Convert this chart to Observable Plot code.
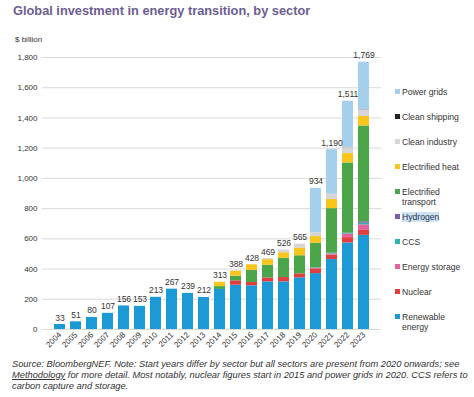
<!DOCTYPE html>
<html>
<head>
<meta charset="utf-8">
<script src="https://cdn.jsdelivr.net/npm/d3@7"></script>
<script src="https://cdn.jsdelivr.net/npm/@observablehq/plot@0.6"></script>
<style>
  html, body { margin: 0; padding: 0; background: #fff; }
  #wrap { position: relative; width: 474px; height: 397px; overflow: hidden; font-family: "Liberation Sans", Arial, sans-serif; color: #333; }
  #title { position: absolute; left: 13px; top: 3px; font-size: 12.8px; font-weight: bold; color: #6c5d93; white-space: nowrap; }
  #unit { position: absolute; left: 15px; top: 35px; font-size: 8px; color: #333; }
  #chart { position: absolute; left: 0; top: 30px; }
  .lg { position: absolute; left: 395px; font-size: 8.6px; line-height: 10px; color: #333; white-space: pre-line; }
  .lg .sw { position: absolute; left: 0; top: 2.5px; width: 5px; height: 5px; }
  .lg .tx { margin-left: 7px; display: inline-block; }
  #caption { position: absolute; left: 12px; top: 359px; font-size: 9.3px; line-height: 11px; font-style: italic; color: #333; white-space: nowrap; }
</style>
</head>
<body>
<div id="wrap">
  <div id="title">Global investment in energy transition, by sector</div>
  <div id="unit">$ billion</div>
  <div id="chart"></div>
  <div id="legend"></div>
  <div id="caption">Source: BloombergNEF. Note: Start years differ by sector but all sectors are present from 2020 onwards; see<br><u>Methodology</u> for more detail. Most notably, nuclear figures start in 2015 and power grids in 2020. CCS refers to<br>carbon capture and storage.</div>
</div>
<script>
const years = ["2004","2005","2006","2007","2008","2009","2010","2011","2012","2013","2014","2015","2016","2017","2018","2019","2020","2021","2022","2023"];
const totals = [33,51,80,107,156,153,213,267,239,212,313,388,428,469,526,565,934,1190,1511,1769];

const sectors = ["Renewable energy","Nuclear","Energy storage","CCS","Hydrogen","Electrified transport","Electrified heat","Clean industry","Clean shipping","Power grids"];
const legendLabels = ["Renewable\nenergy","Nuclear","Energy storage","CCS","Hydrogen","Electrified\ntransport","Electrified heat","Clean industry","Clean shipping","Power grids"];
const colors = ["#1b9ad6","#e13f3f","#e5619c","#2bb7ad","#7a5ca8","#4aa648","#f8c51d","#d6d6d6","#222222","#a6cfeb"];

const renewable = [33,51,80,107,156,153,213,267,239,212,265,293,289,315,315,342,370,463,573,623];
const nuclear   = [0,0,0,0,0,0,0,0,0,0,0,29,22,26,29,26,31,29,35,33];
const storage   = [0,0,0,0,0,0,0,0,0,0,0,0,0,0,0,0,3,8,22,36];
const ccs       = [0,0,0,0,0,0,0,0,0,0,0,0,0,0,0,0,3,3,4,11];
const hydrogen  = [0,0,0,0,0,0,0,0,0,0,0,0,0,0,0,0,1,2,3,10];
const transport = [0,0,0,0,0,0,0,0,0,0,19,31,80,84,127,120,163,295,465,634];
const heat      = [0,0,0,0,0,0,0,0,0,0,29,33,37,37,37,51,44,60,62,63];
const industry  = [0,0,0,0,0,0,0,0,0,0,0,2,0,7,18,26,26,35,40,45];
const shipping  = [0,0,0,0,0,0,0,0,0,0,0,0,0,0,0,0,0,0,1,1];
const grids     = [0,0,0,0,0,0,0,0,0,0,0,0,0,0,0,0,293,295,306,313];

const yTicks = [0,200,400,600,800,1000,1200,1400,1600,1800];

const series = [renewable, nuclear, storage, ccs, hydrogen, transport, heat, industry, shipping, grids];
const data = [];
sectors.forEach((s, k) => years.forEach((y, i) => data.push({year: y, sector: s, value: series[k][i]})));
const totalData = years.map((y, i) => ({year: y, total: totals[i]}));

const chart = Plot.plot({
  width: 390,
  height: 330,
  marginLeft: 42,
  marginRight: 9,
  marginTop: 27,
  marginBottom: 31,
  style: {fontFamily: "Liberation Sans, Arial, sans-serif", color: "#333", background: "transparent"},
  x: {domain: years, padding: 0.33, label: null},
  y: {domain: [0, 1800], label: null},
  color: {domain: sectors, range: colors},
  marks: [
    Plot.gridY(yTicks, {stroke: "#d9d9d9", strokeOpacity: 1}),
    Plot.axisY(yTicks, {tickSize: 0, tickPadding: 5, fontSize: 8, tickFormat: d3.format(","), label: null}),
    Plot.axisX({tickRotate: -45, tickSize: 0, tickPadding: 4, fontSize: 8, label: null}),
    Plot.barY(data, {x: "year", y: "value", fill: "sector", order: sectors}),
    Plot.text(totalData, {x: "year", y: "total", text: d => d3.format(",")(d.total), dy: -4, lineAnchor: "bottom", fontSize: 8.5, fill: "#333"})
  ]
});
document.getElementById("chart").appendChild(chart);

const legend = document.getElementById("legend");
const n = sectors.length;
for (let j = 0; j < n; j++) {
  const k = n - 1 - j;
  const item = document.createElement("div");
  item.className = "lg";
  item.style.top = (91.7 + 25 * j - 5) + "px";
  const sw = document.createElement("span");
  sw.className = "sw";
  sw.style.background = colors[k];
  const tx = document.createElement("span");
  tx.className = "tx";
  tx.textContent = legendLabels[k];
  if (sectors[k] === "Hydrogen") { tx.style.background = "#cfe2f3"; tx.style.color = "#1f3552"; }
  item.appendChild(sw);
  item.appendChild(tx);
  legend.appendChild(item);
}
</script>
</body>
</html>
